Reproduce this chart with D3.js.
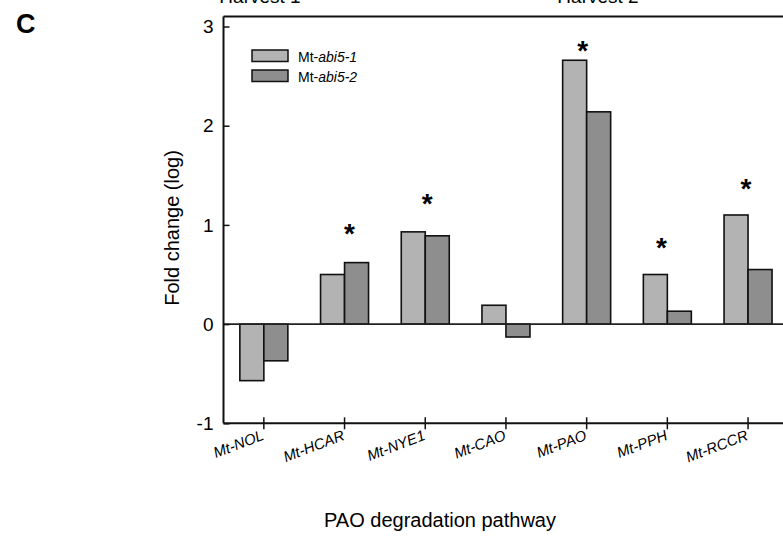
<!DOCTYPE html>
<html>
<head>
<meta charset="utf-8">
<script src="https://cdn.jsdelivr.net/npm/d3@7"></script>
<style>
  body { margin: 0; background: #fff; }
  text { font-family: Arial, "Liberation Sans", sans-serif; fill: #000; }
</style>
</head>
<body>
<div id="chart"></div>
<script>
// data
var genes   = ["Mt-NOL", "Mt-HCAR", "Mt-NYE1", "Mt-CAO", "Mt-PAO", "Mt-PPH", "Mt-RCCR"];
var series  = ["abi5-1", "abi5-2"];
var abi51   = [-0.57, 0.50, 0.93, 0.19, 2.66, 0.50, 1.10];
var abi52   = [-0.37, 0.62, 0.89, -0.13, 2.14, 0.13, 0.55];
// significance marks: gene, y level (log units), small x nudge
var starGene = ["Mt-HCAR", "Mt-NYE1", "Mt-PAO", "Mt-PPH", "Mt-RCCR"];
var starY    = [0.95, 1.25, 2.79, 0.81, 1.40];
var starDx   = [5, 2, -4, -6, -2];
var yTicks   = [-1, 0, 1, 2, 3];
var harvests = ["Harvest 1", "Harvest 2"];

var width     = 783,
    height    = 536,
    plotLeft  = 223.5,
    plotBot   = 423.3,
    plotTop   = 16.6;

var lightGray = "#b3b3b3",
    darkGray  = "#8e8e8e";

var svg = d3.select("#chart").append("svg")
    .attr("width", width)
    .attr("height", height);

// scales
var x0 = d3.scaleBand().domain(genes).range([plotLeft, plotLeft + 7 * 80.7]).padding(0);
var barW = 24;
var x1 = d3.scaleBand().domain(series).range([-barW, barW]);
var y = d3.scaleLinear().domain([-1, 3.1]).range([plotBot, plotTop]);

// panel letter
svg.append("text")
    .attr("x", 16).attr("y", 33)
    .style("font-size", "27px").style("font-weight", "bold")
    .text("C");

// harvest headers (clipped at top)
svg.selectAll(".harvest").data(harvests).enter().append("text")
    .attr("x", function(d, i){ return i == 0 ? 260 : 598; })
    .attr("y", 3)
    .attr("text-anchor", "middle")
    .style("font-size", "19px")
    .text(function(d){ return d; });

// bars
var rows = genes.map(function(g, i){ return {gene: g, vals: [abi51[i], abi52[i]]}; });
var grp = svg.selectAll(".grp").data(rows).enter().append("g")
    .attr("transform", function(d){ return "translate(" + (x0(d.gene) + x0.bandwidth()/2) + ",0)"; });

grp.selectAll("rect").data(function(d){ return d.vals.map(function(v, j){ return {s: series[j], v: v}; }); })
  .enter().append("rect")
    .attr("x", function(d){ return x1(d.s); })
    .attr("width", x1.bandwidth())
    .attr("y", function(d){ return y(Math.max(0, d.v)); })
    .attr("height", function(d){ return Math.abs(y(d.v) - y(0)); })
    .style("fill", function(d){ return d.s == "abi5-1" ? lightGray : darkGray; })
    .style("stroke", "#111")
    .style("stroke-width", "1.6px");

// zero line
svg.append("line")
    .attr("x1", plotLeft).attr("x2", width)
    .attr("y1", y(0)).attr("y2", y(0))
    .style("stroke", "#222").style("stroke-width", "1.6px");

// frame: top line, left axis, bottom axis
svg.append("line").attr("x1", plotLeft).attr("x2", width).attr("y1", plotTop).attr("y2", plotTop)
    .style("stroke", "#111").style("stroke-width", "2px");

var yAxis = svg.append("g")
    .attr("transform", "translate(" + plotLeft + ",0)")
    .call(d3.axisRight(y).tickValues(yTicks).tickSize(6).tickFormat(function(d){ return String(d); }));
yAxis.select(".domain").remove();
yAxis.append("line").attr("x1", 0).attr("x2", 0).attr("y1", plotTop).attr("y2", plotBot)
    .style("stroke", "#111").style("stroke-width", "2px");
yAxis.selectAll(".tick line").style("stroke", "#111").style("stroke-width", "1.5px");
yAxis.selectAll(".tick text")
    .attr("x", -10).attr("text-anchor", "end")
    .style("font-size", "19px").style("font-family", "Arial, 'Liberation Sans', sans-serif");

var xAxis = svg.append("g")
    .attr("transform", "translate(0," + plotBot + ")")
    .call(d3.axisBottom(x0).tickSize(0).tickFormat(""));
xAxis.select(".domain").remove();
xAxis.append("line").attr("x1", plotLeft).attr("x2", width).attr("y1", 0).attr("y2", 0)
    .style("stroke", "#111").style("stroke-width", "2px");
xAxis.selectAll(".tick").append("line")
    .attr("y1", -6).attr("y2", 6)
    .style("stroke", "#111").style("stroke-width", "1.5px");

// rotated italic gene labels
svg.selectAll(".glabel").data(genes).enter().append("text")
    .attr("text-anchor", "end")
    .attr("transform", function(d){
        return "translate(" + (x0(d) + x0.bandwidth()/2 + 1) + "," + (plotBot + 16) + ") rotate(-21)";
    })
    .style("font-size", "15px").style("font-style", "italic")
    .text(function(d){ return d; });

// stars
svg.selectAll(".star").data(starGene).enter().append("text")
    .attr("x", function(d, i){ return x0(d) + x0.bandwidth()/2 + starDx[i]; })
    .attr("y", function(d, i){ return y(starY[i]) + 13; })
    .attr("text-anchor", "middle")
    .style("font-size", "28px").style("font-weight", "bold")
    .text("*");

// axis titles
svg.append("text")
    .attr("transform", "translate(179,228) rotate(-90)")
    .attr("text-anchor", "middle")
    .style("font-size", "20px")
    .text("Fold change (log)");

svg.append("text")
    .attr("x", 440).attr("y", 527)
    .attr("text-anchor", "middle")
    .style("font-size", "20px")
    .text("PAO degradation pathway");

// legend
var legend = svg.append("g").attr("transform", "translate(252,50)");
series.forEach(function(s, i){
    legend.append("rect")
        .attr("x", 0).attr("y", i * 20)
        .attr("width", 36).attr("height", 11.5)
        .style("fill", i == 0 ? lightGray : darkGray)
        .style("stroke", "#111").style("stroke-width", "1.5px");
    var t = legend.append("text")
        .attr("x", 46).attr("y", i * 20 + 11.5)
        .style("font-size", "14px");
    t.append("tspan").text("Mt-");
    t.append("tspan").style("font-style", "italic").text(s);
});
</script>
</body>
</html>
